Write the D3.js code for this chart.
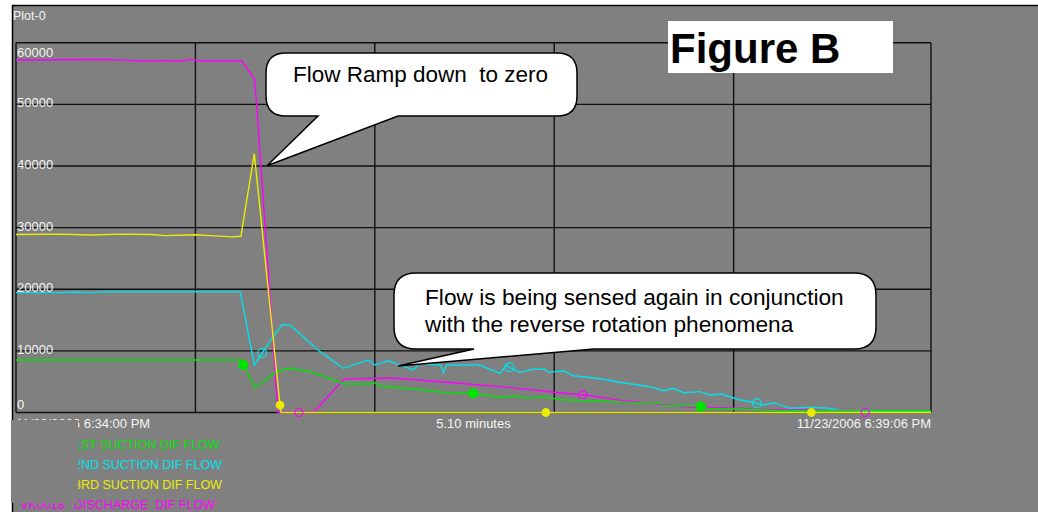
<!DOCTYPE html>
<html><head><meta charset="utf-8">
<script src="https://cdn.jsdelivr.net/npm/d3@7"></script>
<style>html,body{margin:0;padding:0;background:#fff;}svg{display:block;}</style>
</head><body>
<svg id="c" width="1038" height="512"></svg>
<script>
// ---- data (time in seconds from 6:34:00 PM, value in flow units) ----
const seriesNames = ["1ST SUCTION DIF FLOW","2ND SUCTION DIF FLOW","3RD SUCTION DIF FLOW","DISCHARGE  DIF FLOW"];
const seriesColors = ["#00e400","#00e0ec","#ecec00","#ff00ff"];
const greenData = [[0,8520],[75.2,8520],[79.9,3930],[87.2,6620],[91.6,7170],[98.3,6620],[100,6350],[110,4630],[118.4,4630],[120,4840],[121.7,4300],[126.2,4090],[136.2,3650],[144,3210],[152.9,3120],[161.9,2470],[166.9,2680],[171.3,2300],[175.8,2570],[183,2030],[194,1870],[204,1650],[215.4,1490],[216.5,1100],[227.7,1100],[232,570],[242,570],[255.5,290],[306,290]];
const cyanData = [[0,19450],[15,19450],[20,19550],[25,19450],[30,19600],[60,19600],[75,19600],[79.7,7700],[82.3,9650],[86,12300],[88.9,14200],[91.6,14200],[101.7,9870],[109.5,7170],[117.8,8520],[120,7700],[124.5,8400],[128.4,7700],[132.9,6900],[135,7950],[142,7700],[143,6460],[144,7700],[155,7700],[161.9,6350],[164,7700],[165,7380],[168.6,6520],[172.9,7010],[177,7010],[178,6520],[183,6780],[186.4,5970],[194.2,5550],[200.9,5000],[212,4190],[216.5,3540],[219.8,3930],[223.2,3210],[228.8,3380],[232.1,2840],[236,3000],[242.1,2030],[245.5,1750],[250,1220],[253.3,1590],[258.9,680],[265.6,840],[272,680],[275.6,300],[281,300],[285,180],[306,180]];
const yellowData = [[0,28900],[15,28950],[25,28800],[35,28950],[45,28900],[50,28700],[60,28850],[65,28700],[72,28500],[75.2,28600],[79.7,42000],[88.3,1200],[88.6,0],[306,0]];
const magentaData = [[0,57200],[30,57300],[38,57150],[42,57000],[50,57100],[55,57000],[58,57300],[62,57050],[75.5,57050],[79.7,54200],[80.5,49900],[87.6,0],[99.4,0],[108.9,5000],[110,5450],[126,5600],[145,4860],[162,4200],[180,3280],[190,2840],[203,1920],[225,900],[240,680],[255,400],[265,400],[284,0],[306,0]];
const greenMarkers = [76,152.9,229];
const cyanMarkers = [82.3,165,247.8];
const yellowMarkers = [88.3,177.2,266];
const magentaMarkers = [94.6,189.5,284];
const yTicks = [0,10000,20000,30000,40000,50000,60000];
const xGridTimes = [60,120,180,240];
const startLabel = "11/23/2006 6:34:00 PM";
const midLabel = "5.10 minutes";
const endLabel = "11/23/2006 6:39:06 PM";
const plotTitle = "Plot-0";
const figureTitle = "Figure B";
const callout1 = ["Flow Ramp down  to zero"];
const callout2 = ["Flow is being sensed again in conjunction","with the reverse rotation phenomena"];
const hiddenPrefix = "VK0018";

// ---- drawing ----
const svg = d3.select("#c");
const FONT = "'Liberation Sans', Arial, sans-serif";
const x = d3.scaleLinear().domain([0,306]).range([16,931]);
const y = d3.scaleLinear().domain([0,60000]).range([412.5,42.8]);

svg.append("rect").attr("x",12).attr("y",5).attr("width",1026).attr("height",507).attr("fill","#808080");
svg.append("line").attr("x1",12).attr("x2",1038).attr("y1",5.5).attr("y2",5.5).attr("stroke","#000").attr("stroke-width",1.5);
svg.append("line").attr("x1",12.5).attr("x2",12.5).attr("y1",5).attr("y2",512).attr("stroke","#000").attr("stroke-width",1.5);

svg.append("text").attr("x",13).attr("y",20).attr("fill","#f4f4f4").attr("font-family",FONT).attr("font-size",12.5).text(plotTitle);

// grid
const g = svg.append("g");
g.selectAll("line.h").data(yTicks).join("line").attr("class","h")
  .attr("x1",x(0)).attr("x2",x(306)).attr("y1",d=>y(d)).attr("y2",d=>y(d))
  .attr("stroke","#111").attr("stroke-width",1.4);
g.selectAll("line.v").data([0,...xGridTimes,306]).join("line").attr("class","v")
  .attr("x1",d=>x(d)).attr("x2",d=>x(d)).attr("y1",y(60000)).attr("y2",y(0))
  .attr("stroke","#111").attr("stroke-width",1.4);
g.selectAll("text.yl").data(yTicks).join("text").attr("class","yl")
  .attr("x",17).attr("y",d=>Math.min(409,Math.max(57,y(d)+3)))
  .attr("fill","#f4f4f4").attr("font-family",FONT).attr("font-size",13).text(d=>d);

// series
const line = d3.line().x(d=>x(d[0])).y(d=>y(d[1]));
const all = [
  {data:magentaData,color:seriesColors[3],markers:magentaMarkers,type:"open",r:4},
  {data:cyanData,color:seriesColors[1],markers:cyanMarkers,type:"open",r:4.5},
  {data:greenData,color:seriesColors[0],markers:greenMarkers,type:"fill",r:4.5},
  {data:yellowData,color:seriesColors[2],markers:yellowMarkers,type:"fill",r:3.8}
];
function interp(data,t){
  const i = d3.bisector(d=>d[0]).left(data,t);
  if(i<=0) return data[0][1];
  if(i>=data.length) return data[data.length-1][1];
  const a=data[i-1], b=data[i];
  return a[1]+(b[1]-a[1])*(t-a[0])/(b[0]-a[0]);
}
all.forEach(s=>{
  svg.append("path").datum(s.data).attr("d",line).attr("fill","none").attr("stroke",s.color).attr("stroke-width",1.4);
});
all.forEach(s=>{
  svg.selectAll(null).data(s.markers).join("circle")
    .attr("cx",t=>x(t)).attr("cy",t=>y(interp(s.data,t)))
    .attr("r",s.r)
    .attr("fill",s.type==="fill"?s.color:"none")
    .attr("stroke",s.color).attr("stroke-width",1.2);
});

// axis labels
svg.append("text").attr("x",16).attr("y",428).attr("fill","#f4f4f4").attr("font-family",FONT).attr("font-size",13).text(startLabel);
svg.append("text").attr("x",(x(0)+x(306))/2).attr("y",428).attr("text-anchor","middle").attr("fill","#f4f4f4").attr("font-family",FONT).attr("font-size",13).text(midLabel);
svg.append("text").attr("x",x(306)).attr("y",428).attr("text-anchor","end").attr("fill","#f4f4f4").attr("font-family",FONT).attr("font-size",13).text(endLabel);

// legend
svg.selectAll("text.lg").data(seriesNames).join("text").attr("class","lg")
  .attr("x",74).attr("y",(d,i)=>449+i*20)
  .attr("fill",(d,i)=>seriesColors[i])
  .attr("font-family",FONT).attr("font-size",12.5).style("white-space","pre").text(d=>d);
svg.append("text").attr("x",20).attr("y",509).attr("fill",seriesColors[3]).attr("font-family",FONT).attr("font-size",12.5).text(hiddenPrefix);
// gray overlay that hides the legend's left part (as in the source capture)
svg.append("rect").attr("x",11).attr("y",420).attr("width",67).attr("height",83).attr("fill","#808080");

// Figure B box
svg.append("rect").attr("x",668).attr("y",21).attr("width",225).attr("height",52).attr("fill","#fff");
svg.append("text").attr("x",670).attr("y",63).attr("font-family",FONT).attr("font-weight","bold").attr("font-size",42).attr("fill","#000").text(figureTitle);

// callouts
function bubble(x0,y0,x1,y1,r,ta,tb,tip){
  const p = d3.path();
  p.moveTo(x0+r,y0);
  p.lineTo(x1-r,y0);
  p.quadraticCurveTo(x1,y0,x1,y0+r);
  p.lineTo(x1,y1-r);
  p.quadraticCurveTo(x1,y1,x1-r,y1);
  p.lineTo(tb,y1);
  p.lineTo(tip[0],tip[1]);
  p.lineTo(ta,y1);
  p.lineTo(x0+r,y1);
  p.quadraticCurveTo(x0,y1,x0,y1-r);
  p.lineTo(x0,y0+r);
  p.quadraticCurveTo(x0,y0,x0+r,y0);
  p.closePath();
  return p.toString();
}
svg.append("path").attr("d",bubble(266,53,577,116,20,318,398,[267,165.7]))
  .attr("fill","#fff").attr("stroke","#000").attr("stroke-width",1.5).attr("stroke-linejoin","miter");
svg.append("path").attr("d",bubble(394,273,876,349,22,474,594,[398,366]))
  .attr("fill","#fff").attr("stroke","#000").attr("stroke-width",1.5);
svg.selectAll(null).data(callout1).join("text").attr("x",293).attr("y",82)
  .attr("font-family",FONT).attr("font-size",22.5).attr("fill","#000").style("white-space","pre").text(d=>d);
svg.selectAll(null).data(callout2).join("text").attr("x",425).attr("y",(d,i)=>305+i*26.5)
  .attr("font-family",FONT).attr("font-size",22.7).attr("fill","#000").text(d=>d);
</script>
</body></html>
